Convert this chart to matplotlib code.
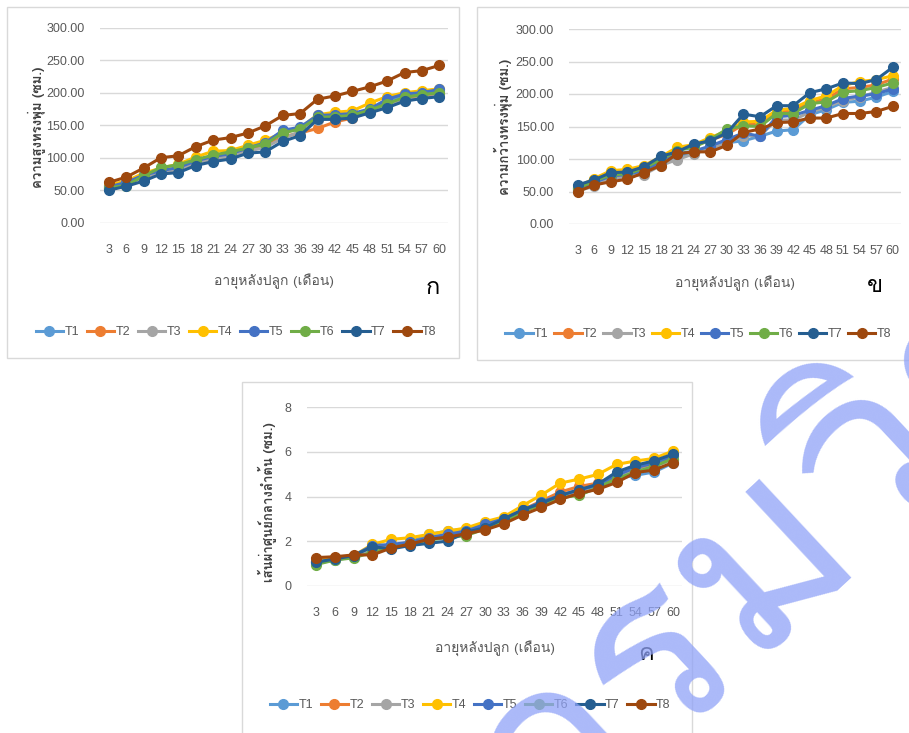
import matplotlib
matplotlib.use('Agg')
import matplotlib.pyplot as plt
from matplotlib import font_manager
from matplotlib.ft2font import FT2Font
from matplotlib.patches import Rectangle

months = [3, 6, 9, 12, 15, 18, 21, 24, 27, 30, 33, 36, 39, 42, 45, 48, 51, 54, 57, 60]
names = ['T1', 'T2', 'T3', 'T4', 'T5', 'T6', 'T7', 'T8']
colors = ['#5B9BD5', '#ED7D31', '#A5A5A5', '#FFC000', '#4472C4', '#70AD47', '#255E91', '#9E480E']

# canopy height (cm)
height_t1 = [56, 61, 72, 80, 83, 93, 100, 104, 113, 120, 140, 145, 163, 164, 166, 174, 186, 195, 199, 203]
height_t2 = [53, 60, 70, 79, 82, 92, 99, 103, 110, 118, 132, 138, 145, 155, 161, 171, 181, 190, 195, 198]
height_t3 = [52, 59, 70, 78, 81, 91, 98, 102, 110, 116, 130, 140, 158, 160, 162, 171, 180, 188, 192, 195]
height_t4 = [58, 64, 76, 84, 90, 101, 110, 111, 119, 127, 138, 146, 166, 170, 172, 184, 194, 200, 203, 206]
height_t5 = [55, 62, 73, 80, 85, 95, 102, 106, 115, 123, 142, 147, 165, 166, 168, 175, 190, 198, 200, 205]
height_t6 = [54, 57, 72, 85, 89, 97, 104, 109, 115, 121, 138, 144, 162, 163, 165, 173, 183, 193, 197, 200]
height_t7 = [50, 56, 64, 75, 77, 88, 94, 98, 107, 109, 125, 134, 159, 159, 161, 169, 177, 187, 191, 194]
height_t8 = [62, 70, 84, 100, 103, 117, 127, 131, 138, 149, 165, 168, 190, 195, 202, 209, 218, 231, 234, 242]

# canopy width (cm)
width_t1 = [52, 62, 72, 74, 80, 92, 103, 110, 118, 125, 128, 135, 143, 145, 168, 176, 187, 189, 195, 204]
width_t2 = [56, 67, 78, 80, 87, 100, 114, 120, 129, 138, 153, 155, 172, 175, 187, 192, 208, 210, 214, 223]
width_t3 = [51, 58, 70, 73, 76, 90, 99, 108, 116, 124, 136, 136, 160, 160, 172, 180, 190, 195, 203, 210]
width_t4 = [57, 70, 82, 84, 90, 103, 118, 122, 133, 143, 157, 158, 175, 178, 190, 197, 213, 219, 222, 228]
width_t5 = [54, 64, 74, 76, 83, 95, 108, 112, 120, 130, 140, 135, 165, 167, 175, 182, 193, 197, 200, 208]
width_t6 = [55, 66, 76, 77, 86, 99, 113, 118, 130, 146, 151, 150, 170, 170, 185, 188, 203, 205, 210, 217]
width_t7 = [60, 68, 79, 80, 88, 104, 111, 123, 128, 140, 169, 165, 182, 182, 202, 208, 217, 216, 222, 241]
width_t8 = [50, 60, 65, 69, 79, 90, 108, 111, 111, 121, 141, 146, 156, 157, 163, 163, 170, 170, 173, 181]

# stem diameter (cm)
diam_t1 = [1.00, 1.15, 1.30, 1.70, 1.75, 1.95, 2.30, 2.45, 2.55, 2.75, 3.00, 3.35, 3.65, 3.95, 4.20, 4.40, 4.80, 4.95, 5.10, 5.50]
diam_t2 = [1.10, 1.25, 1.35, 1.65, 1.80, 1.95, 2.15, 2.30, 2.45, 2.70, 2.95, 3.40, 3.80, 4.20, 4.45, 4.60, 4.95, 5.25, 5.45, 5.70]
diam_t3 = [1.05, 1.20, 1.30, 1.60, 1.75, 1.90, 2.10, 2.25, 2.40, 2.65, 2.90, 3.30, 3.70, 4.00, 4.25, 4.45, 4.85, 5.15, 5.35, 5.65]
diam_t4 = [1.10, 1.25, 1.35, 1.85, 2.08, 2.15, 2.30, 2.45, 2.59, 2.87, 3.09, 3.59, 4.07, 4.60, 4.78, 4.99, 5.44, 5.59, 5.71, 6.04]
diam_t5 = [1.05, 1.20, 1.35, 1.80, 1.85, 1.95, 2.15, 2.30, 2.45, 2.75, 3.00, 3.40, 3.75, 4.05, 4.30, 4.50, 4.95, 5.30, 5.50, 5.80]
diam_t6 = [0.95, 1.15, 1.25, 1.50, 1.70, 1.85, 2.05, 2.15, 2.25, 2.55, 2.90, 3.30, 3.65, 3.95, 4.05, 4.40, 4.80, 5.10, 5.35, 5.70]
diam_t7 = [1.05, 1.20, 1.35, 1.75, 1.65, 1.80, 1.90, 2.00, 2.40, 2.60, 3.00, 3.40, 3.70, 4.05, 4.30, 4.55, 5.10, 5.40, 5.60, 5.90]
diam_t8 = [1.26, 1.30, 1.38, 1.38, 1.69, 1.87, 2.08, 2.18, 2.33, 2.50, 2.78, 3.17, 3.51, 3.87, 4.14, 4.32, 4.63, 5.07, 5.19, 5.52]

height_data = [height_t1, height_t2, height_t3, height_t4, height_t5, height_t6, height_t7, height_t8]
width_data = [width_t1, width_t2, width_t3, width_t4, width_t5, width_t6, width_t7, width_t8]
diam_data = [diam_t1, diam_t2, diam_t3, diam_t4, diam_t5, diam_t6, diam_t7, diam_t8]


def find_thai_font():
    for f in font_manager.fontManager.ttflist:
        try:
            if 0x0E01 in FT2Font(f.fname).get_charmap():
                return f.name
        except Exception:
            pass
    return 'DejaVu Sans'


thai = find_thai_font()
plt.rcParams['font.family'] = ['Liberation Sans', thai, 'DejaVu Sans']

W, H = 909, 733
fig = plt.figure(figsize=(W / 100, H / 100), dpi=100)


def fx(px):
    return px / W


def fy(py):
    return 1 - py / H


# panel frames
for x0, y0, x1, y1 in [(7, 7, 459, 358), (477, 7, 912, 360), (242, 382, 692, 740)]:
    fig.patches.append(Rectangle((fx(x0), fy(y1)), fx(x1 - x0), (y1 - y0) / H,
                                 transform=fig.transFigure, fill=False,
                                 edgecolor='#d9d9d9', linewidth=1, zorder=0))

panels = [
    dict(box=(100, 27.7, 448, 222.7), data=height_data, ylim=(0, 300), yticks=range(0, 301, 50),
         fmt='{:.2f}', ylabel='ความสูงทรงพุ่ม (ซม.)', ylab_xy=(37, 127),
         xlab_xy=(274, 281), letter='ก', letter_xy=(433, 287), leg_xy=(236, 332), colsp=0.62),
    dict(box=(569.3, 29, 901, 224), data=width_data, ylim=(0, 300), yticks=range(0, 301, 50),
         fmt='{:.2f}', ylabel='ความกว้างทรงพุ่ม (ซม.)', ylab_xy=(503, 127),
         xlab_xy=(735, 283), letter='ข', letter_xy=(875, 285), leg_xy=(698, 334), colsp=0.45),
    dict(box=(306.7, 407.3, 682.3, 585.7), data=diam_data, ylim=(0, 8), yticks=range(0, 9, 2),
         fmt='{:d}', ylabel='เส้นผ่าศูนย์กลางลำต้น (ซม.)', ylab_xy=(267, 502),
         xlab_xy=(495, 648), letter='ค', letter_xy=(646, 654), leg_xy=(470, 705), colsp=0.62),
]

for p in panels:
    x0, y0, x1, y1 = p['box']
    ax = fig.add_axes([fx(x0), fy(y1), fx(x1 - x0), (y1 - y0) / H])
    for vals, name, c in zip(p['data'], names, colors):
        ax.plot(months, vals, color=c, linewidth=2.2, marker='o', markersize=7, label=name)
    ax.set_xlim(1.5, 61.5)
    ax.set_ylim(*p['ylim'])
    ax.set_xticks(months)
    ax.set_xticklabels([str(m) for m in months])
    ax.set_yticks(list(p['yticks']))
    ax.set_yticklabels([p['fmt'].format(v) for v in p['yticks']])
    ax.tick_params(axis='both', length=0, labelsize=9, labelcolor='#595959')
    ax.tick_params(axis='x', pad=15)
    ax.tick_params(axis='y', pad=11)
    ax.yaxis.grid(True, color='#d9d9d9', linewidth=1)
    ax.set_axisbelow(True)
    for s in ax.spines.values():
        s.set_visible(False)
    ax.patch.set_alpha(0)

    fig.text(fx(p['ylab_xy'][0]), fy(p['ylab_xy'][1]), p['ylabel'], rotation=90,
             ha='center', va='center', fontsize=9.5, fontweight='bold', color='#404040',
             family=[thai, 'DejaVu Sans'])
    fig.text(fx(p['xlab_xy'][0]), fy(p['xlab_xy'][1]), 'อายุหลังปลูก (เดือน)',
             ha='center', va='center', fontsize=10, color='#595959', family=[thai, 'DejaVu Sans'])
    fig.text(fx(p['letter_xy'][0]), fy(p['letter_xy'][1]), p['letter'],
             ha='center', va='center', fontsize=17, color='black', family=[thai, 'DejaVu Sans'])
    ax.legend(loc='center', bbox_to_anchor=(fx(p['leg_xy'][0]), fy(p['leg_xy'][1])),
              bbox_transform=fig.transFigure, ncol=8, frameon=False, fontsize=9,
              handlelength=2.2, handletextpad=0.1, columnspacing=p['colsp'],
              labelcolor='#595959', borderpad=0)

# watermark
fig.text(fx(545), fy(850), 'กรมวิชาการเกษตร', rotation=43, rotation_mode='anchor',
         ha='left', va='baseline', fontsize=175, color='#8fa2f7', alpha=0.75,
         family=[thai, 'DejaVu Sans'], zorder=10)

fig.savefig('out.png', dpi=100)
